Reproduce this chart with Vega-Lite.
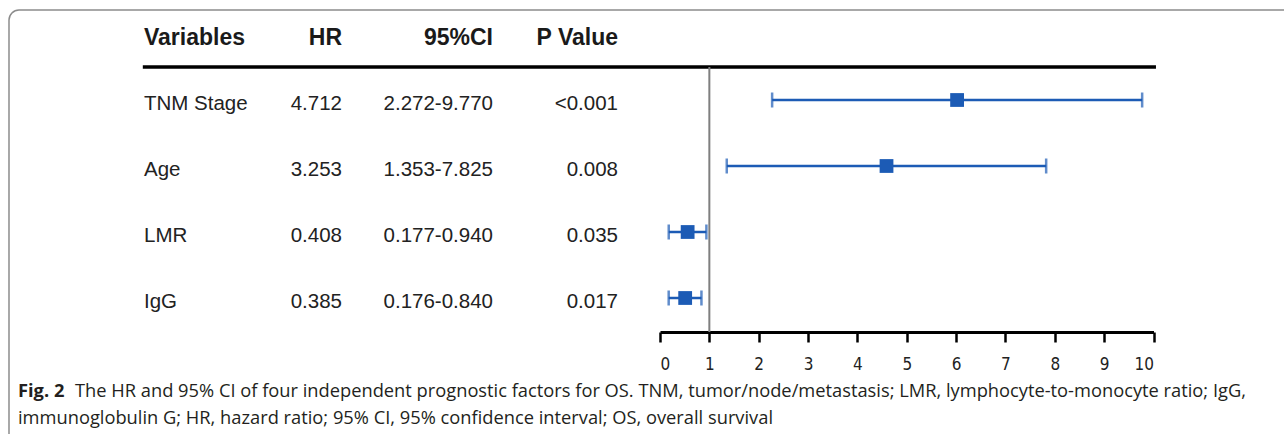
{
  "$schema": "https://vega.github.io/schema/vega-lite/v6.json",
  "width": 1300,
  "height": 440,
  "padding": {"left": 9, "top": 10, "right": 0, "bottom": 0},
  "autosize": {"type": "none"},
  "background": "white",
  "config": {
    "view": {"stroke": "#8c8c8c", "strokeWidth": 1.5, "cornerRadius": 10}
  },
  "datasets": {
    "rows": [
      {"Variable": "TNM Stage", "HR": "4.712", "CI": "2.272-9.770", "P": "<0.001", "point": 6.02, "lower": 2.272, "upper": 9.77},
      {"Variable": "Age", "HR": "3.253", "CI": "1.353-7.825", "P": "0.008", "point": 4.59, "lower": 1.353, "upper": 7.825},
      {"Variable": "LMR", "HR": "0.408", "CI": "0.177-0.940", "P": "0.035", "point": 0.56, "lower": 0.177, "upper": 0.94},
      {"Variable": "IgG", "HR": "0.385", "CI": "0.176-0.840", "P": "0.017", "point": 0.51, "lower": 0.176, "upper": 0.84}
    ],
    "headers": [
      {"column": "Variable", "label": "Variables"},
      {"column": "HR", "label": "HR"},
      {"column": "CI", "label": "95%CI"},
      {"column": "P", "label": "P Value"}
    ]
  },
  "layer": [
    {
      "layer": [
        {
          "data": {"name": "headers"},
          "transform": [{"filter": "datum.column === 'Variable'"}],
          "mark": {"type": "text", "align": "left", "baseline": "alphabetic", "dy": 11, "font": "Liberation Sans", "fontSize": 23, "fontWeight": "bold", "color": "#1a1a1a"},
          "encoding": {
            "x": {"value": 135},
            "y": {"datum": "Variables", "type": "nominal", "scale": {"type": "point", "domain": ["Variables", "TNM Stage", "Age", "LMR", "IgG"], "range": [24, 288], "padding": 0}, "axis": null},
            "text": {"field": "label"}
          }
        },
        {
          "data": {"name": "headers"},
          "transform": [{"filter": "datum.column === 'HR'"}],
          "mark": {"type": "text", "align": "right", "baseline": "alphabetic", "dy": 11, "font": "Liberation Sans", "fontSize": 23, "fontWeight": "bold", "color": "#1a1a1a"},
          "encoding": {
            "x": {"value": 333},
            "y": {"datum": "Variables", "type": "nominal"},
            "text": {"field": "label"}
          }
        },
        {
          "data": {"name": "headers"},
          "transform": [{"filter": "datum.column === 'CI'"}],
          "mark": {"type": "text", "align": "right", "baseline": "alphabetic", "dy": 11, "font": "Liberation Sans", "fontSize": 23, "fontWeight": "bold", "color": "#1a1a1a"},
          "encoding": {
            "x": {"value": 484},
            "y": {"datum": "Variables", "type": "nominal"},
            "text": {"field": "label"}
          }
        },
        {
          "data": {"name": "headers"},
          "transform": [{"filter": "datum.column === 'P'"}],
          "mark": {"type": "text", "align": "right", "baseline": "alphabetic", "dy": 11, "font": "Liberation Sans", "fontSize": 23, "fontWeight": "bold", "color": "#1a1a1a"},
          "encoding": {
            "x": {"value": 609},
            "y": {"datum": "Variables", "type": "nominal"},
            "text": {"field": "label"}
          }
        },
        {
          "data": {"name": "rows"},
          "mark": {"type": "text", "align": "left", "baseline": "alphabetic", "dy": 10, "font": "Liberation Sans", "fontSize": 20.5, "color": "#222222"},
          "encoding": {
            "x": {"value": 135},
            "y": {"field": "Variable", "type": "nominal"},
            "text": {"field": "Variable"}
          }
        },
        {
          "data": {"name": "rows"},
          "mark": {"type": "text", "align": "right", "baseline": "alphabetic", "dy": 10, "font": "Liberation Sans", "fontSize": 20.5, "color": "#222222"},
          "encoding": {
            "x": {"value": 333},
            "y": {"field": "Variable", "type": "nominal"},
            "text": {"field": "HR"}
          }
        },
        {
          "data": {"name": "rows"},
          "mark": {"type": "text", "align": "right", "baseline": "alphabetic", "dy": 10, "font": "Liberation Sans", "fontSize": 20.5, "color": "#222222"},
          "encoding": {
            "x": {"value": 484},
            "y": {"field": "Variable", "type": "nominal"},
            "text": {"field": "CI"}
          }
        },
        {
          "data": {"name": "rows"},
          "mark": {"type": "text", "align": "right", "baseline": "alphabetic", "dy": 10, "font": "Liberation Sans", "fontSize": 20.5, "color": "#222222"},
          "encoding": {
            "x": {"value": 609},
            "y": {"field": "Variable", "type": "nominal"},
            "text": {"field": "P"}
          }
        }
      ]
    },
    {
      "layer": [
        {
          "data": {"values": [{}]},
          "mark": {"type": "rule", "color": "#000000", "strokeWidth": 3.5, "yOffset": -33},
          "encoding": {
            "x": {"datum": -10.48, "type": "quantitative", "scale": {"domain": [0, 10], "range": [651, 1144.5], "nice": false, "zero": false},
              "axis": {"values": [0, 1, 2, 3, 4, 5, 6, 7, 8, 9, 10], "format": "d", "title": null, "grid": false, "offset": -118, "domainColor": "#000000", "domainWidth": 3, "tickColor": "#000000", "tickWidth": 2.5, "tickSize": 10, "labelFont": "'Liberation Sans Narrow', 'DejaVu Sans Condensed', 'Liberation Sans', sans-serif", "labelFontSize": 17, "labelColor": "#222222", "labelPadding": 14}},
            "x2": {"datum": 10.05},
            "y": {"datum": "TNM Stage", "type": "nominal"}
          }
        },
        {
          "data": {"values": [{}]},
          "mark": {"type": "rule", "color": "#7f7f7f", "strokeWidth": 2, "yOffset": -33, "y2Offset": 34},
          "encoding": {
            "x": {"datum": 1, "type": "quantitative"},
            "y": {"datum": "TNM Stage", "type": "nominal"},
            "y2": {"datum": "IgG"}
          }
        },
        {
          "data": {"name": "rows"},
          "mark": {"type": "rule", "color": "#1c5bb5", "strokeWidth": 2.5},
          "encoding": {
            "x": {"field": "lower", "type": "quantitative"},
            "x2": {"field": "upper"},
            "y": {"field": "Variable", "type": "nominal"}
          }
        },
        {
          "data": {"name": "rows"},
          "mark": {"type": "tick", "orient": "vertical", "color": "#1c5bb5", "size": 15, "thickness": 2.5},
          "encoding": {
            "x": {"field": "lower", "type": "quantitative"},
            "y": {"field": "Variable", "type": "nominal"}
          }
        },
        {
          "data": {"name": "rows"},
          "mark": {"type": "tick", "orient": "vertical", "color": "#1c5bb5", "size": 15, "thickness": 2.5},
          "encoding": {
            "x": {"field": "upper", "type": "quantitative"},
            "y": {"field": "Variable", "type": "nominal"}
          }
        },
        {
          "data": {"name": "rows"},
          "mark": {"type": "point", "shape": "square", "filled": true, "opacity": 1, "size": 190, "color": "#1c5bb5"},
          "encoding": {
            "x": {"field": "point", "type": "quantitative"},
            "y": {"field": "Variable", "type": "nominal"}
          }
        }
      ]
    },
    {
      "data": {"values": [{"text": "Fig. 2"}]},
      "mark": {"type": "text", "align": "left", "baseline": "alphabetic", "font": "Open Sans", "fontSize": 18.3, "fontWeight": "bold", "color": "#231f20"},
      "encoding": {"x": {"value": 9}, "y": {"value": 387}, "text": {"field": "text"}}
    },
    {
      "data": {"values": [{"text": "The HR and 95% CI of four independent prognostic factors for OS. TNM, tumor/node/metastasis; LMR, lymphocyte-to-monocyte ratio; IgG,"}]},
      "mark": {"type": "text", "align": "left", "baseline": "alphabetic", "font": "Open Sans", "fontSize": 18.3, "color": "#231f20"},
      "encoding": {"x": {"value": 66}, "y": {"value": 387}, "text": {"field": "text"}}
    },
    {
      "data": {"values": [{"text": "immunoglobulin G; HR, hazard ratio; 95% CI, 95% confidence interval; OS, overall survival"}]},
      "mark": {"type": "text", "align": "left", "baseline": "alphabetic", "font": "Open Sans", "fontSize": 18.3, "color": "#231f20"},
      "encoding": {"x": {"value": 9}, "y": {"value": 414}, "text": {"field": "text"}}
    }
  ],
  "resolve": {"scale": {"x": "independent"}}
}
